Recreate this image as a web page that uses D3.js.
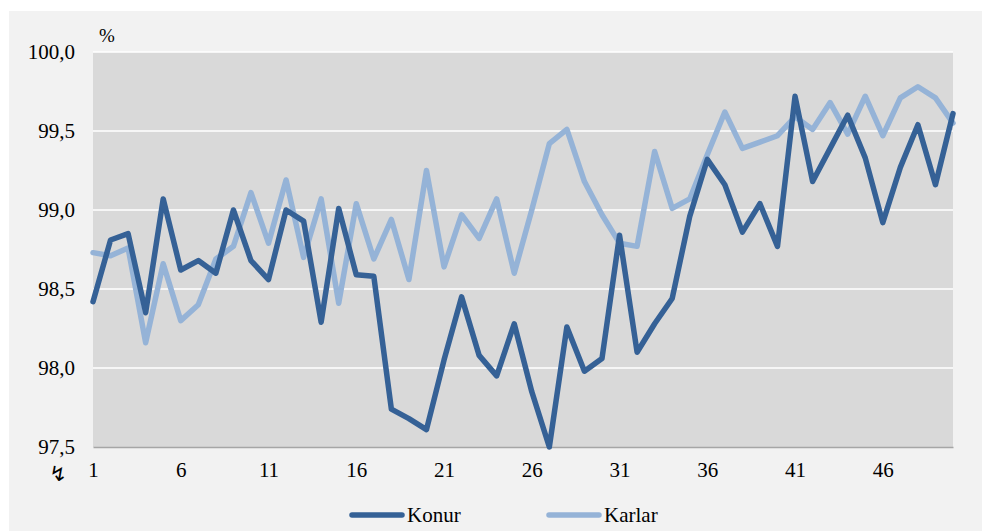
<!DOCTYPE html>
<html><head><meta charset="utf-8">
<script src="https://cdn.jsdelivr.net/npm/d3@7"></script>
<style>
html,body{margin:0;padding:0;background:#fff;}
svg{display:block;}
</style></head>
<body>
<svg id="chart" width="982" height="531"></svg>
<script>
const categories = d3.range(1, 51);
const konur = [98.42,98.81,98.85,98.35,99.07,98.62,98.68,98.60,99.00,98.68,
               98.56,99.00,98.93,98.29,99.01,98.59,98.58,97.74,97.68,97.61,
               98.05,98.45,98.08,97.95,98.28,97.85,97.50,98.26,97.98,98.06,
               98.84,98.10,98.28,98.44,98.96,99.32,99.16,98.86,99.04,98.77,
               99.72,99.18,99.39,99.60,99.33,98.92,99.27,99.54,99.16,99.61];
const karlar = [98.73,98.71,98.76,98.16,98.66,98.30,98.40,98.69,98.77,99.11,
                98.79,99.19,98.70,99.07,98.41,99.04,98.69,98.94,98.56,99.25,
                98.64,98.97,98.82,99.07,98.60,99.00,99.42,99.51,99.18,98.97,
                98.79,98.77,99.37,99.01,99.07,99.35,99.62,99.39,99.43,99.47,
                99.59,99.51,99.68,99.48,99.72,99.47,99.71,99.78,99.71,99.55];
const yTicks = [97.5, 98.0, 98.5, 99.0, 99.5, 100.0];
const xTickLabels = [1, 6, 11, 16, 21, 26, 31, 36, 41, 46];
const seriesNames = ["Konur", "Karlar"];
const seriesColors = ["#356196", "#95b3d7"];

(function () {
const svg = d3.select("#chart");
const FONT = "'Liberation Serif','Times New Roman',serif";
const pLeft = 93, pRight = 953, pTop = 52, pBottom = 447;

svg.append("rect").attr("x", 9).attr("y", 11).attr("width", 973).attr("height", 520).attr("fill", "#f2f2f2");
svg.append("rect").attr("x", pLeft).attr("y", pTop).attr("width", pRight - pLeft).attr("height", pBottom - pTop).attr("fill", "#d9d9d9");

const x = d3.scalePoint().domain(categories).range([pLeft, pRight]);
const y = d3.scaleLinear().domain([97.5, 100]).range([pBottom, pTop]);

// gridlines
svg.append("g").selectAll("line").data(yTicks.filter(d => d > 97.5)).join("line")
  .attr("x1", pLeft).attr("x2", pRight)
  .attr("y1", d => y(d)).attr("y2", d => y(d))
  .attr("stroke", "#ffffff").attr("stroke-width", 1.5);

// y axis labels
const yAxis = d3.axisLeft(y).tickValues(yTicks).tickSize(0).tickPadding(18)
  .tickFormat(d => d3.format(".1f")(d).replace(".", ","));
const gy = svg.append("g").attr("transform", `translate(${pLeft},0)`).call(yAxis);
gy.select(".domain").remove();
gy.selectAll("text").attr("font-family", FONT).attr("font-size", 21).attr("fill", "#000");

// x axis
const xAxis = d3.axisBottom(x).tickValues(xTickLabels).tickSize(0).tickPadding(15);
const gx = svg.append("g").attr("transform", `translate(0,${pBottom})`).call(xAxis);
gx.select(".domain").attr("stroke", "#a6a6a6").attr("stroke-width", 1.5);
gx.selectAll("text").attr("font-family", FONT).attr("font-size", 21).attr("fill", "#000");

// lines
const line = d3.line().x((d, i) => x(categories[i])).y(d => y(d));
[[karlar, 1], [konur, 0]].forEach(([data, idx]) => {
  svg.append("path").datum(data).attr("d", line)
    .attr("fill", "none").attr("stroke", seriesColors[idx])
    .attr("stroke-width", 5.5).attr("stroke-linejoin", "round").attr("stroke-linecap", "round");
});

// percent label
svg.append("text").attr("x", 99).attr("y", 42).attr("font-family", FONT).attr("font-size", 19).attr("fill", "#000").text("%");

// axis break glyph
svg.append("text").attr("x", 58).attr("y", 481).attr("text-anchor", "middle")
  .attr("font-family", "'DejaVu Sans',sans-serif").attr("font-size", 21).attr("fill", "#000").text("↯");

// legend
const legX = [349, 546];
seriesNames.forEach((name, i) => {
  const g = svg.append("g");
  g.append("line").attr("x1", legX[i] + 3).attr("x2", legX[i] + 53).attr("y1", 515).attr("y2", 515)
    .attr("stroke", seriesColors[i]).attr("stroke-width", 5.5).attr("stroke-linecap", "round");
  g.append("text").attr("x", legX[i] + 58).attr("y", 522).attr("font-family", FONT).attr("font-size", 21)
    .attr("fill", "#000").text(name);
});
})();
</script>
</body></html>
